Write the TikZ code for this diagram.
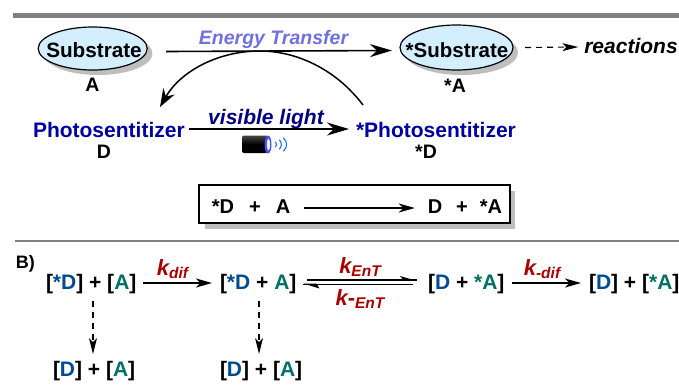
\documentclass[tikz,border=0pt]{standalone}
\usepackage{fontspec}
\setmainfont{Liberation Sans}
\usetikzlibrary{arrows.meta,shapes.geometric}
\definecolor{barg}{HTML}{808080}
\definecolor{shad}{HTML}{BEBEBE}
\definecolor{fillb}{HTML}{D2EEFF}
\definecolor{navy}{HTML}{0000A0}
\definecolor{dnavy}{HTML}{000080}
\definecolor{lav}{HTML}{7070E0}
\definecolor{cd}{HTML}{004A8F}
\definecolor{ca}{HTML}{007065}
\definecolor{kred}{HTML}{A80000}
\newcommand{\cD}[1]{\textcolor{cd}{#1}}
\newcommand{\cA}[1]{\textcolor{ca}{#1}}
\newcommand{\ksub}[2]{\textit{#1\raisebox{-3pt}{\fontsize{15.5}{15.5}\selectfont #2}}}
\tikzset{
  x=1pt,y=-1pt,
  txt/.style={font=\fontsize{21}{21}\selectfont\bfseries,inner sep=0pt,outer sep=0pt,anchor=base},
  lbl/.style={font=\fontsize{19.5}{19.5}\selectfont\bfseries,inner sep=0pt,outer sep=0pt,anchor=base},
  rate/.style={txt,text=kred,font=\fontsize{22}{22}\selectfont\bfseries\itshape},
  bigarr/.style={line width=1.6pt,-{Stealth[length=22pt,width=13pt,inset=7pt]}},
  arr/.style={line width=1.6pt,-{Stealth[length=16pt,width=9pt,inset=4.5pt]}},
  arcarr/.style={line width=1.5pt,-{Stealth[length=18pt,width=13pt,inset=6pt]}},
  dasharr/.style={line width=1.1pt,dash pattern=on 6pt off 5pt,-{Stealth[length=16pt,width=8pt,inset=4pt,line width=0pt]}},
  blob/.style={ellipse,draw=black,line width=1.2pt,fill=fillb,inner sep=0pt,outer sep=0pt},
  blobshadow/.style={ellipse,fill=shad,inner sep=0pt,outer sep=0pt},
  halfhead/.style={fill=black,draw=none},
  wave/.style={draw=blue!60!cyan,line width=1pt,line cap=round},
}
\begin{document}
\begin{tikzpicture}
\useasboundingbox (0,0) rectangle (679,389);
\fill[barg] (13,13) rectangle (679,18);
\fill[barg] (15,240) rectangle (679,242);

% ellipses
\node[blobshadow,minimum width=109pt,minimum height=43pt] (shA) at (98,53.5) {};
\node[blob,minimum width=109pt,minimum height=43pt] (subA) at (92.7,48.5) {};
\node[txt,anchor=center,font=\fontsize{20.7}{20.7}\selectfont\bfseries] (tA) at (94,50) {Substrate};
\node[blobshadow,minimum width=113pt,minimum height=45pt] (shS) at (461.5,52.5) {};
\node[blob,minimum width=113pt,minimum height=45pt] (subS) at (456.5,47.5) {};
\node[txt,anchor=center,font=\fontsize{20.5}{20.5}\selectfont\bfseries] (tS) at (457,50) {*Substrate};
\node[lbl] (lA) at (92.5,91.5) {A};
\node[lbl] (lSA) at (455,92) {*A};

% top arrows
\node[txt,text=lav,font=\fontsize{19.5}{19.5}\selectfont\bfseries\itshape] (et) at (273.5,44) {Energy Transfer};
\draw[bigarr] ([shift={(19,3)}]subA.east) -- ([shift={(-8,3)}]subS.west);
\node[txt,font=\fontsize{21}{21}\selectfont\bfseries\itshape] (re) at (631,53) {reactions};
\draw[dasharr] ([shift={(12,0)}]subS.east) -- ([shift={(-6,-6)}]re.base west);

% photosensitizer row
\node[txt,text=navy,anchor=base west] (pD) at (33,137) {Photosentitizer};
\node[txt,text=navy,anchor=base west] (pS) at (356,137) {*Photosentitizer};
\node[lbl] (lD) at (104,158.5) {D};
\node[lbl] (lSD) at (426,158.5) {*D};
\node[txt,text=dnavy,font=\fontsize{21}{21}\selectfont\bfseries\itshape] (vl) at (266,124) {visible light};
\draw[bigarr] ([shift={(4,-8)}]pD.base east) -- ([shift={(-7,-8)}]pS.base west);

% return arc
\coordinate (arcS) at (363,105);
\coordinate (arcE) at (160,107);
\draw[arcarr] (arcS) .. controls (335,68) and (295,51) .. (260,51) .. controls (217,51) and (180,72) .. (arcE);

% flashlight
\shade[top color=gray!55!black,bottom color=black,middle color=black,rounded corners=2pt] (242,135.5) rectangle (268,153);
\fill[blue!70!white] (268,144.5) ellipse (3.5 and 9);
\fill[cyan!12] (268.5,144.5) ellipse (1.6 and 6);
\draw[wave] (275.5,142) .. controls (276.8,143.5) and (276.8,145.5) .. (275.5,147);
\draw[wave] (279.5,140) .. controls (282,142.5) and (282,146.5) .. (279.5,149);
\draw[wave] (283.5,138) .. controls (287.5,141.5) and (287.5,147.5) .. (283.5,151);

% box
\fill[shad] (205,191) rectangle (515,229);
\node[draw=black,line width=1.3pt,fill=white,minimum width=311pt,minimum height=38pt,inner sep=0pt,outer sep=0pt] (bx) at (354.5,204) {};
\node[lbl,font=\fontsize{20}{20}\selectfont\bfseries] (b1) at (223,213) {*D};
\node[lbl,font=\fontsize{20}{20}\selectfont\bfseries] (b2) at (255,213) {+};
\node[lbl,font=\fontsize{20}{20}\selectfont\bfseries] (b3) at (283,213) {A};
\node[lbl,font=\fontsize{20}{20}\selectfont\bfseries] (b4) at (435,213) {D};
\node[lbl,font=\fontsize{20}{20}\selectfont\bfseries] (b5) at (462,213) {+};
\node[lbl,font=\fontsize{20}{20}\selectfont\bfseries] (b6) at (491,213) {*A};
\draw[arr] ([shift={(14,-5)}]b3.base east) -- ([shift={(-13,-5)}]b4.base west);

% section B
\node[txt,font=\fontsize{18}{18}\selectfont\bfseries,anchor=base west] (bb) at (16,268) {B)};
\node[txt,anchor=base west] (r1) at (46,289) {[\cD{*D}] + [\cA{A}]};
\node[txt,anchor=base west] (r2) at (220,289) {[\cD{*D} + \cA{A}]};
\node[txt,anchor=base west] (r3) at (428,289) {[\cD{D} + \cA{*A}]};
\node[txt,anchor=base west] (r4) at (589,289) {[\cD{D}] + [\cA{*A}]};
\node[txt,anchor=base west] (p1) at (53,376) {[\cD{D}] + [\cA{A}]};
\node[txt,anchor=base west] (p2) at (220,376) {[\cD{D}] + [\cA{A}]};

\node[rate] (k1) at (172.5,275) {\ksub{k}{dif}};
\node[rate] (k2) at (360,273) {\ksub{k}{EnT}};
\node[rate] (k3) at (360,305) {\ksub{k-}{EnT}};
\node[rate] (k4) at (542,275) {\ksub{k}{-dif}};

\draw[arr] ([shift={(7,-6)}]r1.base east) -- ([shift={(-8,-6)}]r2.base west);
\draw[arr] ([shift={(8,-6)}]r3.base east) -- ([shift={(-8,-6)}]r4.base west);
\draw[line width=1.7pt] ([shift={(11,-9)}]r2.base east) -- ([shift={(-11,-9)}]r3.base west);
\draw[line width=1.7pt] ([shift={(7,-4.5)}]r2.base east) -- ([shift={(-15,-4.5)}]r3.base west);
\fill[halfhead] ([shift={(-11,-8)}]r3.base west) -- ++(-17,-5) -- ++(4,4.5) -- ++(10,0) -- cycle;
\fill[halfhead] ([shift={(7,-5.5)}]r2.base east) -- ++(16,5) -- ++(-3,-5) -- ++(-10,0) -- cycle;

\draw[dasharr] ([shift={(47,12)}]r1.base west) -- ([shift={(40,-22)}]p1.base west);
\draw[dasharr] ([shift={(39,12)}]r2.base west) -- ([shift={(39,-22)}]p2.base west);
\end{tikzpicture}
\end{document}
